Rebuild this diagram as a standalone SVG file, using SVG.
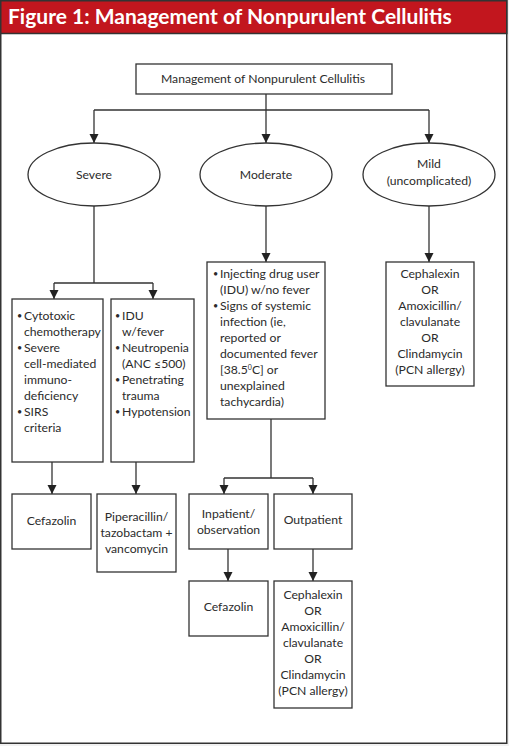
<svg xmlns="http://www.w3.org/2000/svg" width="509" height="746" viewBox="0 0 509 746">
<defs>
<style>
.t{font-family:Lato,"Open Sans","Liberation Sans",sans-serif;font-size:12.2px;fill:#2b2b2b}
.b{font-family:Lato,"Open Sans","Liberation Sans",sans-serif;font-size:9px;fill:#2b2b2b}
.c{text-anchor:middle}
.box{fill:#fff;stroke:#333;stroke-width:1.3}
.ln{fill:none;stroke:#333;stroke-width:1.3}
</style>
<marker id="ah" markerUnits="userSpaceOnUse" markerWidth="10" markerHeight="10" refX="9" refY="4.5" orient="auto">
<path d="M0,0 L9,4.5 L0,9 z" fill="#222"/>
</marker>
</defs>
<rect x="0" y="0" width="509" height="746" fill="#f1f1f1"/>
<rect x="0.75" y="0.75" width="506" height="742.5" fill="#fff" stroke="#333" stroke-width="1.5"/>
<rect x="0.75" y="0.75" width="506" height="32.75" fill="#c2161e" stroke="#333" stroke-width="1.5"/>
<text x="8" y="24" font-family="Lato,'Open Sans','Liberation Sans',sans-serif" font-weight="bold" font-size="21" fill="#fff">Figure 1: Management of Nonpurulent Cellulitis</text>

<g id="connectors">
<path class="ln" d="M266,94 V110 M94,110 H429"/>
<path class="ln" d="M94,110 V143" marker-end="url(#ah)"/>
<path class="ln" d="M266,110 V143" marker-end="url(#ah)"/>
<path class="ln" d="M429,110 V143" marker-end="url(#ah)"/>
<path class="ln" d="M94,206 V283 M54,283 H153"/>
<path class="ln" d="M54,283 V299" marker-end="url(#ah)"/>
<path class="ln" d="M153,283 V299" marker-end="url(#ah)"/>
<path class="ln" d="M266,206 V262" marker-end="url(#ah)"/>
<path class="ln" d="M429,206 V262" marker-end="url(#ah)"/>
<path class="ln" d="M52,462 V494" marker-end="url(#ah)"/>
<path class="ln" d="M136,462 V494" marker-end="url(#ah)"/>
<path class="ln" d="M271,419 V478 M224,478 H313"/>
<path class="ln" d="M224,478 V494" marker-end="url(#ah)"/>
<path class="ln" d="M313,478 V494" marker-end="url(#ah)"/>
<path class="ln" d="M228,549 V581" marker-end="url(#ah)"/>
<path class="ln" d="M313,549 V581" marker-end="url(#ah)"/>
</g>

<g id="root">
<rect class="box" x="136" y="64" width="256" height="30"/>
<text class="t c" x="263" y="83">Management of Nonpurulent Cellulitis</text>
</g>

<g id="severe">
<ellipse class="box" cx="94" cy="174.5" rx="66" ry="31.5"/>
<text class="t c" x="94" y="179">Severe</text>
</g>
<g id="moderate">
<ellipse class="box" cx="266" cy="174.5" rx="66" ry="31.5"/>
<text class="t c" x="266" y="179">Moderate</text>
</g>
<g id="mild">
<ellipse class="box" cx="429" cy="174.5" rx="66" ry="31.5"/>
<text class="t c" x="429" y="168">Mild</text>
<text class="t c" x="429" y="185">(uncomplicated)</text>
</g>

<g id="severe-criteria-1">
<rect class="box" x="12" y="299" width="91" height="163"/>
<text class="b" x="17" y="319">•</text><text class="t" x="24" y="320">Cytotoxic</text>
<text class="t" x="24" y="336">chemotherapy</text>
<text class="b" x="17" y="351">•</text><text class="t" x="24" y="352">Severe</text>
<text class="t" x="24" y="368">cell-mediated</text>
<text class="t" x="24" y="384">immuno-</text>
<text class="t" x="24" y="400">deficiency</text>
<text class="b" x="17" y="415">•</text><text class="t" x="24" y="416">SIRS</text>
<text class="t" x="24" y="432">criteria</text>
</g>

<g id="severe-criteria-2">
<rect class="box" x="111" y="299" width="83" height="163"/>
<text class="b" x="115" y="319">•</text><text class="t" x="122" y="320">IDU</text>
<text class="t" x="122" y="336">w/fever</text>
<text class="b" x="115" y="351">•</text><text class="t" x="122" y="352">Neutropenia</text>
<text class="t" x="122" y="368">(ANC ≤500)</text>
<text class="b" x="115" y="383">•</text><text class="t" x="122" y="384">Penetrating</text>
<text class="t" x="122" y="400">trauma</text>
<text class="b" x="115" y="415">•</text><text class="t" x="122" y="416">Hypotension</text>
</g>

<g id="moderate-criteria">
<rect class="box" x="207" y="262" width="118" height="157"/>
<text class="b" x="213" y="277">•</text><text class="t" x="220" y="278">Injecting drug user</text>
<text class="t" x="220" y="294">(IDU) w/no fever</text>
<text class="b" x="213" y="309">•</text><text class="t" x="220" y="310">Signs of systemic</text>
<text class="t" x="220" y="326">infection (ie,</text>
<text class="t" x="220" y="342">reported or</text>
<text class="t" x="220" y="358">documented fever</text>
<text class="t" x="220" y="374">[38.5<tspan font-size="7" dy="-4">0</tspan><tspan dy="4">C] or</tspan></text>
<text class="t" x="220" y="390">unexplained</text>
<text class="t" x="220" y="406">tachycardia)</text>
</g>

<g id="mild-treatment">
<rect class="box" x="386" y="262" width="88" height="124"/>
<text class="t c" x="430" y="278">Cephalexin</text>
<text class="t c" x="430" y="294">OR</text>
<text class="t c" x="430" y="310">Amoxicillin/</text>
<text class="t c" x="430" y="326">clavulanate</text>
<text class="t c" x="430" y="342">OR</text>
<text class="t c" x="430" y="358">Clindamycin</text>
<text class="t c" x="430" y="374">(PCN allergy)</text>
</g>

<g id="severe-cefazolin">
<rect class="box" x="12" y="494" width="79" height="55"/>
<text class="t c" x="51.5" y="525">Cefazolin</text>
</g>

<g id="severe-pip-tazo">
<rect class="box" x="97" y="494" width="79" height="78"/>
<text class="t c" x="136.5" y="521">Piperacillin/</text>
<text class="t c" x="136.5" y="537">tazobactam +</text>
<text class="t c" x="136.5" y="553">vancomycin</text>
</g>

<g id="inpatient">
<rect class="box" x="189" y="494" width="79" height="55"/>
<text class="t c" x="228.5" y="518">Inpatient/</text>
<text class="t c" x="228.5" y="534">observation</text>
</g>

<g id="outpatient">
<rect class="box" x="274" y="494" width="78" height="55"/>
<text class="t c" x="313" y="524">Outpatient</text>
</g>

<g id="inpatient-cefazolin">
<rect class="box" x="189" y="581" width="79" height="55"/>
<text class="t c" x="228.5" y="611">Cefazolin</text>
</g>

<g id="outpatient-treatment">
<rect class="box" x="274" y="581" width="78" height="127"/>
<text class="t c" x="313" y="599">Cephalexin</text>
<text class="t c" x="313" y="615">OR</text>
<text class="t c" x="313" y="631">Amoxicillin/</text>
<text class="t c" x="313" y="647">clavulanate</text>
<text class="t c" x="313" y="663">OR</text>
<text class="t c" x="313" y="679">Clindamycin</text>
<text class="t c" x="313" y="695">(PCN allergy)</text>
</g>
</svg>
